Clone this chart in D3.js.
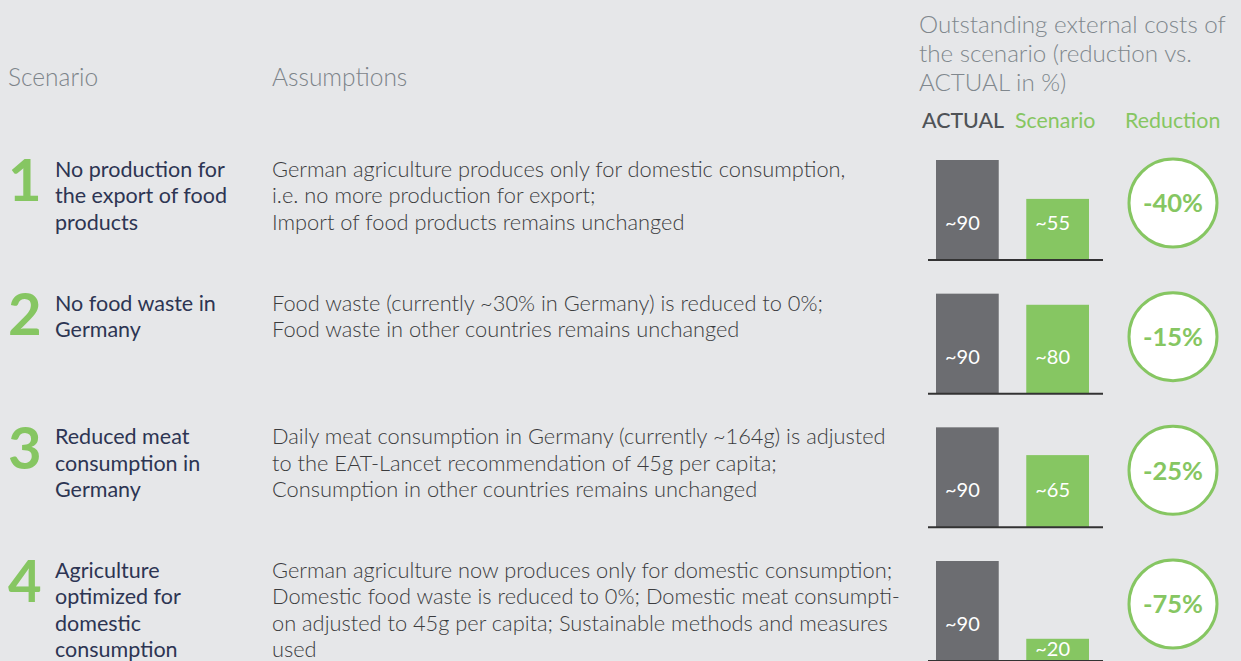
<!DOCTYPE html>
<html>
<head>
<meta charset="utf-8">
<script src="https://cdn.jsdelivr.net/npm/d3@7"></script>
<style>
  body { margin: 0; background: #e6e7e9; }
  svg { display: block; font-family: Lato, "Open Sans", sans-serif; }
</style>
</head>
<body>
<div id="chart"></div>
<script>
// data
let scenarioNumbers = ["1", "2", "3", "4"];
let scenarioTitles = [
  ["No production for", "the export of food", "products"],
  ["No food waste in", "Germany"],
  ["Reduced meat", "consumption in", "Germany"],
  ["Agriculture", "optimized for", "domestic", "consumption"]
];
let assumptions = [
  ["German agriculture produces only for domestic consumption,",
   "i.e. no more production for export;",
   "Import of food products remains unchanged"],
  ["Food waste (currently ~30% in Germany) is reduced to 0%;",
   "Food waste in other countries remains unchanged"],
  ["Daily meat consumption in Germany (currently ~164g) is adjusted",
   "to the EAT-Lancet recommendation of 45g per capita;",
   "Consumption in other countries remains unchanged"],
  ["German agriculture now produces only for domestic consumption;",
   "Domestic food waste is reduced to 0%; Domestic meat consumpti-",
   "on adjusted to 45g per capita; Sustainable methods and measures",
   "used"]
];
let actualValues = [90, 90, 90, 90];
let scenarioValues = [55, 80, 65, 20];
let reductionLabels = ["-40%", "-15%", "-25%", "-75%"];
let barSeries = ["ACTUAL", "Scenario"];
let headerRight = ["Outstanding external costs of", "the scenario (reduction vs.", "ACTUAL in %)"];

let width = 1241, height = 661;
let green = "#86c662", grey = "#6c6d71";
let lineH = 26.4;

let svg = d3.select("#chart").append("svg")
  .attr("width", width)
  .attr("height", height);

// scales
let rowY = d3.scalePoint().domain(scenarioNumbers).range([260, 661]);
let xBar = d3.scaleBand().domain(barSeries).range([936, 1089]).paddingInner(0.305).paddingOuter(0);
let hBar = d3.scaleLinear().domain([0, 90]).range([0, 100]);

// headers
svg.append("text").attr("x", 8).attr("y", 86)
  .attr("font-size", 24.5).attr("font-weight", 300).attr("fill", "#7d848a")
  .text("Scenario");
svg.append("text").attr("x", 272).attr("y", 86)
  .attr("font-size", 24.5).attr("font-weight", 300).attr("fill", "#7d848a")
  .text("Assumptions");

svg.append("g").selectAll("text")
  .data(headerRight)
  .enter().append("text")
  .attr("x", 919)
  .attr("y", (d, i) => 33 + i * 29)
  .attr("font-size", 24.2).attr("font-weight", 300).attr("fill", "#80878d")
  .text(d => d);

let colHeads = [
  { t: "ACTUAL", x: 922, c: "#4f5357", w: 500 },
  { t: "Scenario", x: 1015, c: green, w: 400 },
  { t: "Reduction", x: 1125, c: green, w: 400 }
];
svg.append("g").selectAll("text")
  .data(colHeads)
  .enter().append("text")
  .attr("x", d => d.x).attr("y", 128)
  .attr("font-size", 21.4).attr("font-weight", d => d.w).attr("fill", d => d.c)
  .text(d => d.t);

// rows
let rows = svg.selectAll("g.row")
  .data(scenarioNumbers)
  .enter().append("g")
  .attr("class", "row")
  .attr("transform", d => "translate(0," + rowY(d) + ")");

rows.append("text")
  .attr("x", 8).attr("y", -83 + lineH - 2)
  .attr("font-size", 58).attr("font-weight", 700).attr("fill", green)
  .text(d => d);

rows.append("text")
  .attr("fill", "#2d3553").attr("font-size", 21.5)
  .selectAll("tspan")
  .data((d, i) => scenarioTitles[i])
  .enter().append("tspan")
  .attr("x", 55)
  .attr("y", (d, i) => -83 + i * lineH)
  .text(d => d);

rows.append("text")
  .attr("fill", "#3b3c3e").attr("font-size", 21.8).attr("font-weight", 300)
  .selectAll("tspan")
  .data((d, i) => assumptions[i])
  .enter().append("tspan")
  .attr("x", 272)
  .attr("y", (d, i) => -83 + i * lineH)
  .text(d => d);

// bars
let bars = rows.selectAll("g.bar")
  .data((d, i) => [
    { s: "ACTUAL", v: actualValues[i] },
    { s: "Scenario", v: scenarioValues[i] }
  ])
  .enter().append("g").attr("class", "bar");

bars.append("rect")
  .attr("x", d => xBar(d.s))
  .attr("y", d => -hBar(d.v))
  .attr("width", xBar.bandwidth())
  .attr("height", d => hBar(d.v))
  .attr("fill", d => d.s === "ACTUAL" ? grey : green);

bars.append("text")
  .attr("x", d => xBar(d.s) + 9)
  .attr("y", d => hBar(d.v) < 40 ? -hBar(d.v) + 17 : -30)
  .attr("font-size", 20).attr("fill", "#fff")
  .text(d => "~" + d.v);

rows.append("line")
  .attr("x1", 928).attr("x2", 1103)
  .attr("y1", 0).attr("y2", 0)
  .attr("stroke", "#333").attr("stroke-width", 2);

// reduction circles
rows.append("circle")
  .attr("cx", 1173).attr("cy", -57).attr("r", 44)
  .attr("fill", "#fff").attr("stroke", green).attr("stroke-width", 3);

rows.append("text")
  .attr("x", 1173).attr("y", -57)
  .attr("dy", "0.36em")
  .attr("text-anchor", "middle")
  .attr("font-size", 25.5).attr("font-weight", 700).attr("fill", green)
  .text((d, i) => reductionLabels[i]);
</script>
</body>
</html>
